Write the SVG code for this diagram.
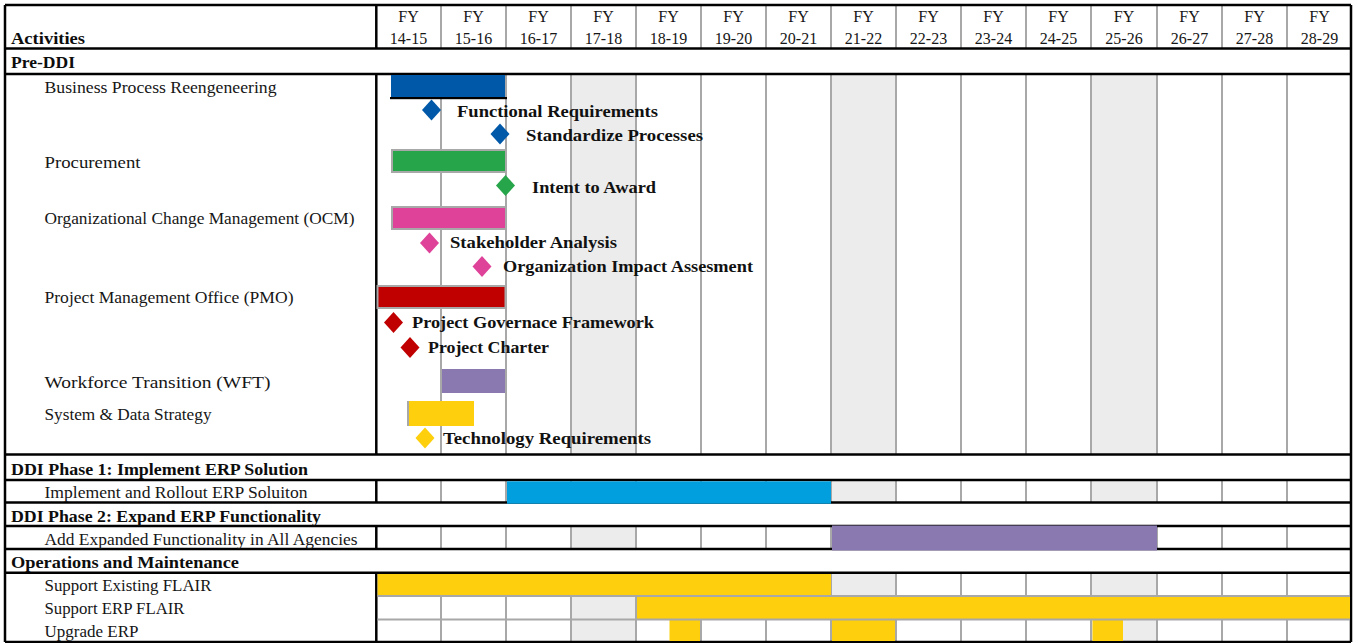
<svg xmlns="http://www.w3.org/2000/svg" width="1358" height="643" viewBox="0 0 1358 643">
  <style>
    .lbl{font-family:"Liberation Serif","Times New Roman",serif;font-size:16.5px;fill:#161616}
    .hd{font-family:"Liberation Serif","Times New Roman",serif;font-size:17px;font-weight:bold;fill:#0d0d0d}
    .ms{font-family:"Liberation Serif","Times New Roman",serif;font-size:17px;font-weight:bold;fill:#111}
    .fy{font-family:"Liberation Serif","Times New Roman",serif;font-size:16px;fill:#161616;text-anchor:middle}
    .shade{fill:#ececec}
    .grid{stroke:#a8a8a8;stroke-width:2;fill:none}
    .rule{stroke:#000;stroke-width:2.5;fill:none}
    .blue{fill:#0059a8}
    .green{fill:#27a54b}
    .pink{fill:#de4399}
    .red{fill:#c00000}
    .purple{fill:#8a78b0}
    .yellow{fill:#fecf0c}
    .sky{fill:#019fdd}
    .edge{stroke:#a8a8a8;stroke-width:2}
  </style>
  <defs>
    <path id="diamond" d="M0,-10.5 L9.5,0 L0,10.5 L-9.5,0 Z"/>
  </defs>

  <rect x="0" y="0" width="1358" height="643" fill="#fff"/>

  <!-- shaded fiscal-year columns (17-18, 21-22, 25-26) in the activity rows -->
  <g id="shading" class="shade">
    <rect x="572" y="74" width="63" height="380.5"/>
    <rect x="832" y="74" width="63" height="380.5"/>
    <rect x="1092" y="74" width="64" height="380.5"/>
    <rect x="572" y="480" width="63" height="22.5"/>
    <rect x="832" y="480" width="63" height="22.5"/>
    <rect x="1092" y="480" width="64" height="22.5"/>
    <rect x="572" y="526" width="63" height="23"/>
    <rect x="832" y="526" width="63" height="23"/>
    <rect x="1092" y="526" width="64" height="23"/>
    <rect x="572" y="572.7" width="63" height="69.3"/>
    <rect x="832" y="572.7" width="63" height="69.3"/>
    <rect x="1092" y="572.7" width="64" height="69.3"/>
  </g>

  <!-- light year dividers -->
  <g id="year-grid" class="grid">
    <path d="M441,5V48.5 M506,5V48.5 M571,5V48.5 M636,5V48.5 M701,5V48.5 M766,5V48.5 M831,5V48.5 M896,5V48.5 M961,5V48.5 M1026,5V48.5 M1091,5V48.5 M1157,5V48.5 M1222,5V48.5 M1287,5V48.5"/>
    <path d="M441,74V454.5 M506,74V454.5 M571,74V454.5 M636,74V454.5 M701,74V454.5 M766,74V454.5 M831,74V454.5 M896,74V454.5 M961,74V454.5 M1026,74V454.5 M1091,74V454.5 M1157,74V454.5 M1222,74V454.5 M1287,74V454.5"/>
    <path d="M441,480V502.5 M506,480V502.5 M571,480V502.5 M636,480V502.5 M701,480V502.5 M766,480V502.5 M831,480V502.5 M896,480V502.5 M961,480V502.5 M1026,480V502.5 M1091,480V502.5 M1157,480V502.5 M1222,480V502.5 M1287,480V502.5"/>
    <path d="M441,526V549 M506,526V549 M571,526V549 M636,526V549 M701,526V549 M766,526V549 M831,526V549 M896,526V549 M961,526V549 M1026,526V549 M1091,526V549 M1157,526V549 M1222,526V549 M1287,526V549"/>
    <path d="M441,572.7V642 M506,572.7V642 M571,572.7V642 M636,572.7V642 M701,572.7V642 M766,572.7V642 M831,572.7V642 M896,572.7V642 M961,572.7V642 M1026,572.7V642 M1091,572.7V642 M1157,572.7V642 M1222,572.7V642 M1287,572.7V642"/>
  </g>

  <!-- table frame and section rules -->
  <g id="frame" class="rule">
    <path d="M5,5H1351 M5,48.5H1351 M5,74H1351 M5,454.5H1351 M5,480H1351 M5,502.5H1351 M5,526H1351 M5,549H1351 M5,572.7H1351 M5,642H1351"/>
    <path d="M5,5V642 M1351,5V642"/>
    <path d="M376.3,5V48.5 M376.3,74V454.5 M376.3,480V502.5 M376.3,526V549 M376.3,572.7V642"/>
  </g>

  <!-- column headings -->
  <g id="header">
    <text class="hd" x="11" y="44" textLength="74" lengthAdjust="spacingAndGlyphs">Activities</text>
    <g class="fy">
      <text x="408.5" y="22">FY</text><text x="408.5" y="44">14-15</text>
      <text x="473.5" y="22">FY</text><text x="473.5" y="44">15-16</text>
      <text x="538.5" y="22">FY</text><text x="538.5" y="44">16-17</text>
      <text x="603.5" y="22">FY</text><text x="603.5" y="44">17-18</text>
      <text x="668.5" y="22">FY</text><text x="668.5" y="44">18-19</text>
      <text x="733.5" y="22">FY</text><text x="733.5" y="44">19-20</text>
      <text x="798.5" y="22">FY</text><text x="798.5" y="44">20-21</text>
      <text x="863.5" y="22">FY</text><text x="863.5" y="44">21-22</text>
      <text x="928.5" y="22">FY</text><text x="928.5" y="44">22-23</text>
      <text x="993.5" y="22">FY</text><text x="993.5" y="44">23-24</text>
      <text x="1058.5" y="22">FY</text><text x="1058.5" y="44">24-25</text>
      <text x="1124" y="22">FY</text><text x="1124" y="44">25-26</text>
      <text x="1189.5" y="22">FY</text><text x="1189.5" y="44">26-27</text>
      <text x="1254.5" y="22">FY</text><text x="1254.5" y="44">27-28</text>
      <text x="1319.5" y="22">FY</text><text x="1319.5" y="44">28-29</text>
    </g>
  </g>

  <!-- section titles -->
  <g id="sections">
    <text class="hd" x="11" y="68" textLength="64" lengthAdjust="spacingAndGlyphs">Pre-DDI</text>
    <text class="hd" x="11" y="475" textLength="297" lengthAdjust="spacingAndGlyphs">DDI Phase 1: Implement ERP Solution</text>
    <text class="hd" x="11" y="522" textLength="310" lengthAdjust="spacingAndGlyphs">DDI Phase 2: Expand ERP Functionality</text>
    <text class="hd" x="11" y="568" textLength="228" lengthAdjust="spacingAndGlyphs">Operations and Maintenance</text>
  </g>

  <!-- Pre-DDI activities -->
  <g id="bpr">
    <text class="lbl" x="44.5" y="92.5" textLength="232" lengthAdjust="spacingAndGlyphs">Business Process Reengeneering</text>
    <rect class="blue" x="391" y="75" width="114" height="22"/>
    <rect x="390" y="97" width="117" height="2.2" fill="#000"/>
    <use href="#diamond" class="blue" x="431.5" y="110"/>
    <text class="ms" x="457" y="117" textLength="201" lengthAdjust="spacingAndGlyphs">Functional Requirements</text>
    <use href="#diamond" class="blue" x="500" y="134"/>
    <text class="ms" x="526" y="141" textLength="177" lengthAdjust="spacingAndGlyphs">Standardize Processes</text>
  </g>

  <g id="procurement">
    <text class="lbl" x="44.5" y="167.5" textLength="96" lengthAdjust="spacingAndGlyphs">Procurement</text>
    <rect class="green edge" x="392" y="150" width="114" height="22"/>
    <use href="#diamond" class="green" x="505.5" y="185.5"/>
    <text class="ms" x="532" y="193" textLength="124" lengthAdjust="spacingAndGlyphs">Intent to Award</text>
  </g>

  <g id="ocm">
    <text class="lbl" x="44.5" y="223.5" textLength="310" lengthAdjust="spacingAndGlyphs">Organizational Change Management (OCM)</text>
    <rect class="pink edge" x="392" y="207" width="114" height="22"/>
    <use href="#diamond" class="pink" x="429.5" y="243"/>
    <text class="ms" x="450" y="248.3" textLength="167" lengthAdjust="spacingAndGlyphs">Stakeholder Analysis</text>
    <use href="#diamond" class="pink" x="482" y="266.5"/>
    <text class="ms" x="503" y="272.3" textLength="250" lengthAdjust="spacingAndGlyphs">Organization Impact Assesment</text>
  </g>

  <g id="pmo">
    <text class="lbl" x="44.5" y="303" textLength="249" lengthAdjust="spacingAndGlyphs">Project Management Office (PMO)</text>
    <rect class="red edge" x="377.5" y="286" width="128" height="22"/>
    <use href="#diamond" class="red" x="393.5" y="322.5"/>
    <text class="ms" x="412" y="327.7" textLength="242" lengthAdjust="spacingAndGlyphs">Project Governace Framework</text>
    <use href="#diamond" class="red" x="410" y="347.5"/>
    <text class="ms" x="428" y="353.3" textLength="121" lengthAdjust="spacingAndGlyphs">Project Charter</text>
  </g>

  <g id="wft">
    <text class="lbl" x="44.5" y="387.5" textLength="226" lengthAdjust="spacingAndGlyphs">Workforce Transition (WFT)</text>
    <rect class="purple" x="442" y="369" width="63" height="24"/>
  </g>

  <g id="data-strategy">
    <text class="lbl" x="44.5" y="420" textLength="167" lengthAdjust="spacingAndGlyphs">System &amp; Data Strategy</text>
    <rect class="yellow" x="408" y="401" width="66" height="25"/>
    <path d="M408,401V426" stroke="#a8a8a8" stroke-width="2"/>
    <use href="#diamond" class="yellow" x="425" y="438"/>
    <text class="ms" x="443" y="444.3" textLength="208" lengthAdjust="spacingAndGlyphs">Technology Requirements</text>
  </g>

  <!-- DDI phases -->
  <g id="implement-erp">
    <text class="lbl" x="44.5" y="498" textLength="263" lengthAdjust="spacingAndGlyphs">Implement and Rollout ERP Soluiton</text>
    <rect class="sky" x="507" y="481.3" width="324" height="22.4"/>
  </g>

  <g id="expand-erp">
    <text class="lbl" x="44.5" y="545" textLength="313" lengthAdjust="spacingAndGlyphs">Add Expanded Functionality in All Agencies</text>
    <rect class="purple" x="832" y="525.5" width="325" height="25"/>
  </g>

  <!-- operations and maintenance -->
  <g id="support-existing">
    <text class="lbl" x="44.5" y="591" textLength="167" lengthAdjust="spacingAndGlyphs">Support Existing FLAIR</text>
    <rect class="yellow" x="377.6" y="574" width="453.4" height="22"/>
  </g>

  <g id="support-erp">
    <text class="lbl" x="44.5" y="614" textLength="140" lengthAdjust="spacingAndGlyphs">Support ERP FLAIR</text>
    <rect class="yellow" x="637" y="597" width="713" height="22"/>
  </g>

  <g id="upgrade-erp">
    <text class="lbl" x="44.5" y="637" textLength="94" lengthAdjust="spacingAndGlyphs">Upgrade ERP</text>
    <rect class="yellow" x="669.5" y="620" width="30.5" height="21"/>
    <rect class="yellow" x="832" y="620" width="63" height="21"/>
    <rect class="yellow" x="1092.5" y="620" width="30.5" height="21"/>
  </g>

  <!-- sub-row dividers drawn over the O&M bars -->
  <g id="om-rows" class="grid">
    <path d="M377.5,596H1350 M377.5,619.6H1350"/>
  </g>
</svg>
